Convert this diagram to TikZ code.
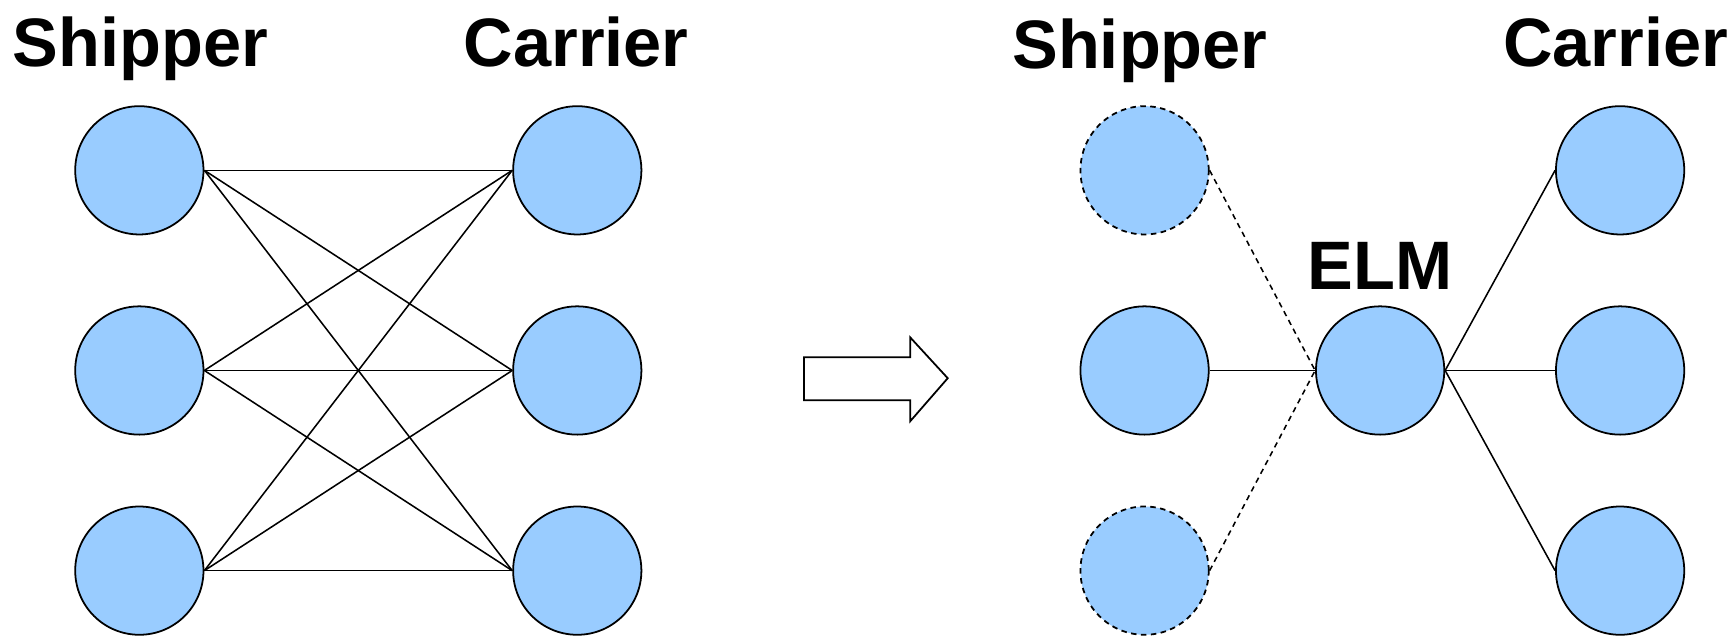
\documentclass[tikz,border=0pt]{standalone}
\usepackage{fontspec}
\setmainfont{Liberation Sans}
\begin{document}
\begin{tikzpicture}[x=0.5pt,y=-0.5pt,
  party/.style={circle,draw=black,line width=0.8pt,fill=blueA,minimum size=58pt,inner sep=0pt},
  ghost/.style={party,dash pattern=on 2.5pt off 2pt},
  link/.style={draw=black,line width=0.7pt},
  ghostlink/.style={link,dash pattern=on 2.5pt off 2pt},
  heading/.style={font=\fontsize{31}{31}\selectfont\bfseries,inner sep=0pt,anchor=base west}]
\definecolor{blueA}{HTML}{99CCFF}
\useasboundingbox (0,0) rectangle (1568,575);
% left: all-to-all
\node[heading] (hs1) at (11,60) {Shipper};
\node[heading] (hc1) at (419,60) {Carrier};
\foreach \i/\y in {1/154,2/335,3/516}{
  \node[party] (s\i) at (126,\y) {};
  \node[party] (c\i) at (522,\y) {};
}
\foreach \i in {1,2,3}{
  \foreach \j in {1,2,3}{
    \draw[link] (s\i.east) -- (c\j.west);
  }
}
% block arrow
\draw[line width=0.8pt,fill=white] (727,323) -- (823,323) -- (823,305) -- (857,342) -- (823,381) -- (823,362) -- (727,362) -- cycle;
% right: via ELM
\node[heading] (hs2) at (915,62) {Shipper};
\node[heading] (hc2) at (1359,60) {Carrier};
\node[ghost] (r1) at (1035,154) {};
\node[party] (r2) at (1035,335) {};
\node[ghost] (r3) at (1035,516) {};
\node[party] (elm) at (1248,335) {};
\node[heading,anchor=base] (elmlabel) at (1248,262) {ELM};
\foreach \i/\y in {1/154,2/335,3/516}{
  \node[party] (k\i) at (1465,\y) {};
  \draw[link] (elm.east) -- (k\i.west);
}
\draw[ghostlink] (r1.east) -- (elm.west);
\draw[link] (r2.east) -- (elm.west);
\draw[ghostlink] (r3.east) -- (elm.west);
\end{tikzpicture}
\end{document}
